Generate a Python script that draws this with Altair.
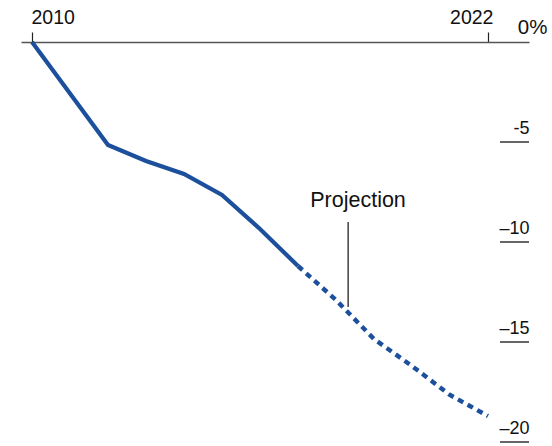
import altair as alt
import pandas as pd

# Series: percentage change since 2010 (actual through 2017, projected after)
actual_years = [2010, 2012, 2013, 2014, 2015, 2016, 2017]
actual_values = [0.0, -5.15, -5.95, -6.6, -7.65, -9.35, -11.2]
proj_years = [2017, 2018, 2019, 2020, 2021, 2022]
proj_values = [-11.2, -12.9, -14.85, -16.2, -17.65, -18.7]

# Axis ticks and labels
x_ticks = [2010, 2022]
y_ticks = [0, -5, -10, -15, -20]
y_labels = ["0%", "-5", "–10", "–15", "–20"]

# Annotation
note_text = "Projection"
note_x = 2018.58
note_y = -8.25
pointer_x = 2018.32
pointer_y = [-9.0, -13.25]

FONT = "Liberation Sans"
BLUE = "#1c4f9c"

actual_df = pd.DataFrame({"year": actual_years, "value": actual_values})
proj_df = pd.DataFrame({"year": proj_years, "value": proj_values})
underline_df = pd.DataFrame({"value": [v for v in y_ticks if v != 0]})
note_df = pd.DataFrame({"year": [note_x], "value": [note_y], "label": [note_text]})
pointer_df = pd.DataFrame({"year": [pointer_x], "y1": [pointer_y[0]], "y2": [pointer_y[1]]})

label_expr = " : ".join(
    f"datum.value == {v} ? '{s}'" for v, s in zip(y_ticks[:-1], y_labels[:-1])
) + f" : '{y_labels[-1]}'"

x_scale = alt.Scale(domain=[2009.71, 2023.08], nice=False, zero=False)
y_scale = alt.Scale(domain=[-20, 0], nice=False, zero=False)

x_axis = alt.Axis(
    orient="top",
    values=x_ticks,
    format="d",
    title=None,
    grid=False,
    domainColor="#555555",
    domainWidth=1.6,
    tickColor="#222222",
    tickSize=10,
    tickWidth=1.2,
    labelFont=FONT,
    labelFontSize=19.5,
    labelColor="#111111",
    labelBaseline="alphabetic",
    labelPadding=9,
    labelAlign={"condition": {"test": "datum.value == 2010", "value": "left"}, "value": "right"},
    labelOffset={"condition": {"test": "datum.value == 2010", "value": -1}, "value": 5},
)

y_axis = alt.Axis(
    orient="right",
    values=y_ticks,
    labelExpr=label_expr,
    title=None,
    grid=False,
    domain=False,
    ticks=False,
    labelFont=FONT,
    labelFontSize={"condition": {"test": "datum.value == 0", "value": 20.5}, "value": 18},
    labelColor="#111111",
    labelAlign="right",
    labelBaseline="alphabetic",
    labelOffset=-9,
    labelPadding={"condition": {"test": "datum.value == 0", "value": 18}, "value": 0},
)

actual = alt.Chart(actual_df).mark_line(
    color=BLUE, strokeWidth=4.2, strokeCap="butt", strokeJoin="miter"
).encode(
    x=alt.X("year:Q", scale=x_scale, axis=x_axis),
    y=alt.Y("value:Q", scale=y_scale, axis=y_axis),
)

projection = alt.Chart(proj_df).mark_line(
    color=BLUE, strokeWidth=4.4, strokeDash=[6, 5], strokeCap="butt"
).encode(
    x=alt.X("year:Q", scale=x_scale),
    y=alt.Y("value:Q", scale=y_scale),
)

underlines = alt.Chart(underline_df).mark_rule(color="#333333", strokeWidth=1.5).encode(
    y=alt.Y("value:Q", scale=y_scale),
    x=alt.value(479),
    x2=alt.value(508),
)

pointer = alt.Chart(pointer_df).mark_rule(color="#222222", strokeWidth=1.3).encode(
    x=alt.X("year:Q", scale=x_scale),
    y=alt.Y("y1:Q", scale=y_scale),
    y2="y2:Q",
)

note = alt.Chart(note_df).mark_text(
    font=FONT, fontSize=21.5, color="#111111", align="center", baseline="alphabetic"
).encode(
    x=alt.X("year:Q", scale=x_scale),
    y=alt.Y("value:Q", scale=y_scale),
    text="label:N",
)

chart = alt.layer(underlines, pointer, note, actual, projection).properties(
    width=508,
    height=400,
    background="white",
    padding={"left": 21, "top": 42, "right": 23, "bottom": 4},
    autosize=alt.AutoSizeParams(type="none"),
).configure_view(strokeWidth=0, stroke="transparent")

chart.save("out.html", embed_options={"renderer": "svg", "actions": False})
